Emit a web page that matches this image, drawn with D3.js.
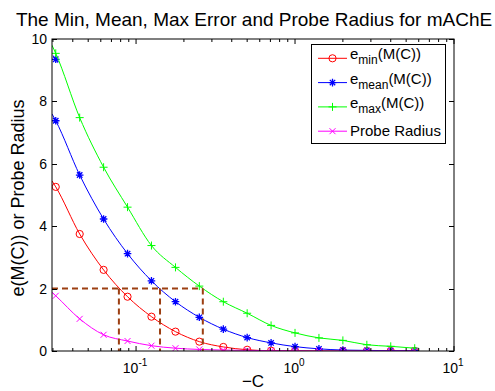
<!DOCTYPE html>
<html><head><meta charset="utf-8">
<script src="https://cdn.jsdelivr.net/npm/d3@7"></script>
<style>
html,body{margin:0;padding:0;background:#fff;}
text{font-family:"Liberation Sans",Arial,Helvetica,sans-serif;fill:#000;}
</style></head>
<body><svg id="chart" width="495" height="391"></svg>
<script>
// x positions: first entry is where the drawn curve meets the left axis edge
const xLine = [0.0296, 0.03125, 0.0442, 0.0625, 0.0884, 0.125, 0.177, 0.25, 0.354, 0.5, 0.707, 1, 1.414, 2, 2.83, 4, 5.66];
const eMin  = [5.45, 5.26, 3.75, 2.60, 1.74, 1.10, 0.62, 0.30, 0.13, 0.04, 0.01, 0.005, 0, 0, 0, 0, 0];
const eMean = [7.6, 7.38, 5.64, 4.23, 3.12, 2.25, 1.58, 1.08, 0.70, 0.43, 0.26, 0.14, 0.07, 0.03, 0.02, 0.01, 0.01];
const eMax  = [9.8, 9.54, 7.48, 5.89, 4.61, 3.38, 2.68, 2.08, 1.58, 1.21, 0.82, 0.58, 0.42, 0.34, 0.20, 0.15, 0.09];
const probe = [1.88, 1.77, 1.03, 0.52, 0.32, 0.17, 0.09, 0.05, 0.03, 0.02, 0.01, 0.01, 0, 0, 0, 0, 0];
// isolated extra e_mean point near the top-left
const meanExtraX = [0.0301, 0.03125, 0.0322];
const meanExtraY = [9.47, 9.35, 9.24];
// where curves cross e = 2 (dashed guides)
const crossX = [0.078, 0.1415, 0.263];
const crossLevel = 2;
const yTicks = [0, 2, 4, 6, 8, 10];
const xMajor = [0.1, 1, 10];
const xMajorExp = ["-1", "0", "1"];
const legendLabels = [["e","min","(M(C))"],["e","mean","(M(C))"],["e","max","(M(C))"],["Probe Radius","",""]];
const title = "The Min, Mean, Max Error and Probe Radius for mAChE";

const svg = d3.select("#chart");
const L = 52, R = 454, T = 39, B = 351;
const x = d3.scaleLog().domain([0.0296, 10]).range([L, R]);
const y = d3.scaleLinear().domain([0, 10]).range([B, T]);

const colors = ["#ff0000", "#0000ff", "#00ff00", "#ff00ff"];
const markers = ["circle", "star", "plus", "cross"];
const series = [eMin, eMean, eMax, probe];

function markerPath(type) {
  if (type === "plus") { const s = 4; return `M${-s},0H${s}M0,${-s}V${s}`; }
  if (type === "cross") { const s = 3; return `M${-s},${-s}L${s},${s}M${-s},${s}L${s},${-s}`; }
  if (type === "star") { const s = 3.8, d = 2.7; return `M${-s},0H${s}M0,${-s}V${s}M${-d},${-d}L${d},${d}M${-d},${d}L${d},${-d}`; }
  return null;
}
function drawMarker(g, type, color, cx, cy) {
  if (type === "circle") {
    g.append("circle").attr("cx", cx).attr("cy", cy).attr("r", 3.6)
      .attr("fill", "none").attr("stroke", color).attr("stroke-width", 1);
  } else {
    g.append("path").attr("d", markerPath(type)).attr("transform", `translate(${cx},${cy})`)
      .attr("fill", "none").attr("stroke", color).attr("stroke-width", type === "star" ? 1.3 : 1);
  }
}

svg.append("defs").append("clipPath").attr("id", "clip")
  .append("rect").attr("x", L).attr("y", T).attr("width", R - L).attr("height", B - T);

svg.append("rect").attr("x", L).attr("y", T).attr("width", R - L).attr("height", B - T).attr("fill", "#fff");

const plot = svg.append("g").attr("clip-path", "url(#clip)");
const line = d3.line().x(d => x(d[0])).y(d => y(d[1])).curve(d3.curveMonotoneX);

series.forEach((vals, i) => {
  const pts = xLine.map((xv, j) => [xv, vals[j]]);
  const g = plot.append("g");
  g.append("path").attr("d", line(pts)).attr("fill", "none").attr("stroke", colors[i]).attr("stroke-width", 1);
  pts.slice(1).forEach(p => drawMarker(g, markers[i], colors[i], x(p[0]), y(p[1])));
  if (i === 1) {
    const ep = meanExtraX.map((xv, j) => [xv, meanExtraY[j]]);
    g.append("path").attr("d", d3.line().x(d => x(d[0])).y(d => y(d[1]))(ep))
      .attr("fill", "none").attr("stroke", colors[1]).attr("stroke-width", 1);
    drawMarker(g, "star", colors[1], x(ep[1][0]), y(ep[1][1]));
  }
});

// dashed guides
const brown = "#9c3f12";
plot.append("line").attr("x1", L).attr("x2", x(d3.max(crossX))).attr("y1", y(crossLevel)).attr("y2", y(crossLevel))
  .attr("stroke", brown).attr("stroke-width", 2).attr("stroke-dasharray", "6,4");
crossX.forEach(cx => {
  plot.append("line").attr("x1", x(cx)).attr("x2", x(cx)).attr("y1", y(crossLevel)).attr("y2", y(0))
    .attr("stroke", brown).attr("stroke-width", 2).attr("stroke-dasharray", "6,4");
});

// axes box
const axis = svg.append("g").attr("stroke", "#000").attr("stroke-width", 1).attr("fill", "none");
axis.append("rect").attr("x", L).attr("y", T).attr("width", R - L).attr("height", B - T);

yTicks.forEach(v => {
  const yy = Math.round(y(v)) + 0.5;
  axis.append("line").attr("x1", L).attr("x2", L + 5).attr("y1", yy).attr("y2", yy);
  axis.append("line").attr("x1", R).attr("x2", R - 5).attr("y1", yy).attr("y2", yy);
  svg.append("text").attr("x", L - 5).attr("y", y(v)).attr("dy", "0.36em").attr("text-anchor", "end")
    .attr("font-size", 14).text(v);
});

const minor = [];
[0.01, 0.1, 1].forEach(dec => { for (let k = 2; k <= 9; k++) { const v = dec * k; if (v > 0.0296 && v < 10) minor.push(v); } });
minor.forEach(v => {
  const xx = x(v);
  axis.append("line").attr("x1", xx).attr("x2", xx).attr("y1", B).attr("y2", B - 3);
  axis.append("line").attr("x1", xx).attr("x2", xx).attr("y1", T).attr("y2", T + 3);
});
xMajor.forEach((v, i) => {
  const xx = x(v);
  axis.append("line").attr("x1", xx).attr("x2", xx).attr("y1", B).attr("y2", B - 5);
  axis.append("line").attr("x1", xx).attr("x2", xx).attr("y1", T).attr("y2", T + 5);
  const t = svg.append("text").attr("x", xx - 1).attr("y", 373).attr("text-anchor", "middle").attr("font-size", 14);
  t.append("tspan").text("10");
  t.append("tspan").attr("font-size", 10).attr("dy", -7).text(xMajorExp[i]);
});

svg.append("text").attr("x", 254).attr("y", 26).attr("text-anchor", "middle").attr("font-size", 19).text(title);
svg.append("text").attr("x", 253).attr("y", 387).attr("text-anchor", "middle").attr("font-size", 17).text("\u2212C");
svg.append("text").attr("transform", "translate(24,198) rotate(-90)").attr("text-anchor", "middle")
  .attr("font-size", 18).text("e(M(C)) or Probe Radius");

const lg = svg.append("g");
const lgX = 311.5, lgY = 44.5, lgW = 134, lgH = 99;
lg.append("rect").attr("x", lgX).attr("y", lgY).attr("width", lgW).attr("height", lgH)
  .attr("fill", "#fff").attr("stroke", "#000").attr("stroke-width", 1);
legendLabels.forEach((lab, i) => {
  const ry = 58.3 + i * 24.3;
  lg.append("line").attr("x1", 318).attr("x2", 347).attr("y1", ry).attr("y2", ry)
    .attr("stroke", colors[i]).attr("stroke-width", 1);
  drawMarker(lg, markers[i], colors[i], 332.5, ry);
  const t = lg.append("text").attr("x", 350).attr("y", ry + (lab[1] ? 1 : 5)).attr("font-size", 15);
  t.append("tspan").text(lab[0]);
  if (lab[1]) {
    t.append("tspan").attr("font-size", 12).attr("dy", 5).text(lab[1]);
    t.append("tspan").attr("dy", -5).text(lab[2]);
  }
});
</script>
</body></html>
